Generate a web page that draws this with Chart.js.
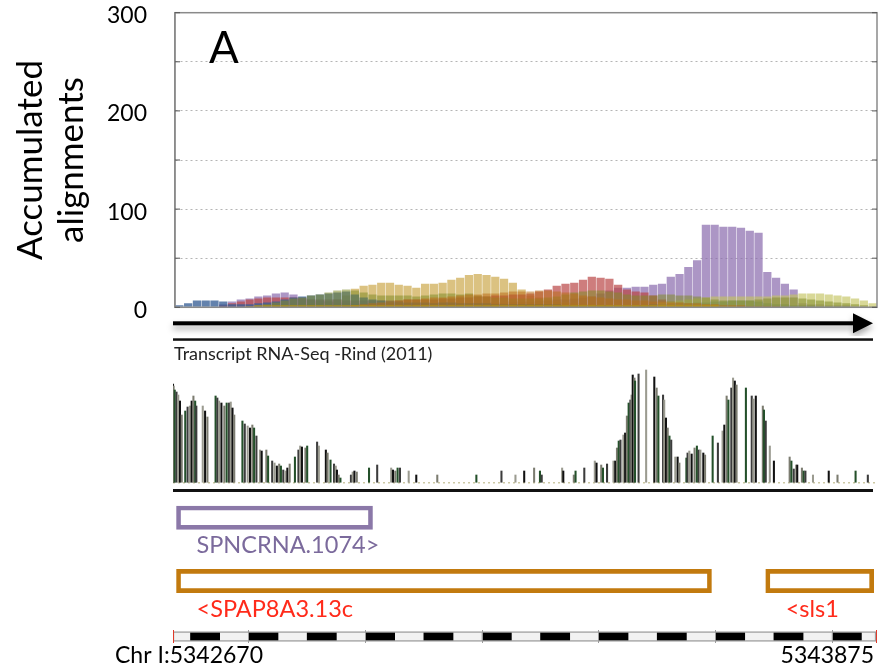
<!DOCTYPE html>
<html><head><meta charset="utf-8">
<script src="https://cdn.jsdelivr.net/npm/chart.js@4.4.1/dist/chart.umd.min.js"></script>
<style>
html,body{margin:0;padding:0;background:#fff;}
#wrap{position:relative;width:881px;height:672px;overflow:hidden;background:#fff;}
canvas{position:absolute;left:0;}
</style></head><body>
<div id="wrap">
<canvas id="cov" width="881" height="336" style="top:0px"></canvas>
<canvas id="trk" width="881" height="160" style="top:336px"></canvas>
<canvas id="gen" width="881" height="146" style="top:486px"></canvas>
<canvas id="rul" width="881" height="47" style="top:625px"></canvas>
</div>
<script>
// ---------- region ----------
const START = 5342670, END = 5343875;
const BIN_COUNT = 80;
const binLabels = Array.from({length: BIN_COUNT}, (_, i) => String(START + Math.round(i * (END - START) / BIN_COUNT)));

// ---------- panel A: accumulated alignments (per bin) ----------
const yTickValues = [0, 100, 200, 300];
const covBlue = [2,4,7,7,7,6,3,3,3,4, 5,6,8,10,11,12,13,14,15,16, 13,10,8,7,6,6,5,5,5,4, 5,5,4,4,4,4,3,3,3,3,
                 3,3,3,3,2,2,2,2,2,2, 2,2,2,2,3,3,3,4,4,5, 5,6,6,7,7,7,6,4,3,3, 2,2,2,1,1,1,1,0,0,0];
const covPurple = [0,0,0,0,0,3,6,8,9,11, 12,14,15,13,10,8,7,6,5,5, 4,4,4,4,4,4,4,5,5,5, 5,5,5,5,5,5,5,5,6,6,
                   6,7,7,8,8,9,10,11,14,17, 20,20,21,21,23,24,31,34,41,48, 84,84,82,82,81,78,76,36,30,24, 18,4,3,3,2,2,2,1,1,0];
const covRed = [0,0,0,0,0,2,4,6,8,9, 10,10,10,10,9,8,8,8,8,7, 7,7,7,7,7,7,8,8,8,8, 9,9,10,10,11,11,12,12,13,13,
                14,16,18,22,24,25,28,31,30,29, 23,18,16,15,12,8,6,5,4,4, 3,3,3,2,2,2,2,2,1,1, 1,1,1,0,0,0,0,0,0,0];
const covTan = [0,0,0,0,0,0,0,0,0,0, 0,0,0,0,3,4,5,6,8,12, 19,22,23,25,25,23,22,20,24,24, 25,28,30,33,34,33,31,29,25,18,
                12,10,8,6,5,4,3,3,2,2, 2,2,2,2,1,1,1,1,1,1, 1,1,1,1,0,0,0,0,0,0, 0,0,0,0,0,0,0,0,0,0];
const covOlive = [0,0,0,0,0,0,0,0,0,1, 3,5,7,9,10,12,13,15,17,18, 17,15,13,12,12,12,12,11,12,13, 14,14,13,14,12,11,10,10,9,9,
                  9,9,10,11,13,15,16,17,17,16, 15,13,12,12,12,13,13,12,12,11, 10,8,7,7,7,7,8,9,10,10, 10,9,8,7,6,5,4,3,2,1];
const covOrange = [0,0,0,0,0,0,0,0,0,0, 0,0,0,0,0,0,0,0,0,0, 2,3,4,5,6,7,8,8,9,10, 10,11,12,13,13,14,14,15,16,16,
                   16,17,17,16,15,14,12,11,10,9, 8,8,7,7,6,6,5,5,4,4, 3,3,2,2,2,1,1,1,1,0, 0,0,0,0,0,0,0,0,0,0];
const covLime = [0,0,0,0,0,0,0,0,0,0, 0,0,0,0,0,0,0,0,0,0, 0,0,0,0,0,0,0,0,0,0, 0,0,0,0,0,0,0,0,0,0,
                 0,0,0,0,0,0,0,0,0,0, 0,0,0,0,0,5,6,7,8,9, 10,11,11,11,11,11,11,11,12,12, 13,14,14,14,13,12,11,9,7,4];
const covGold = [0,0,0,0,0,0,0,0,1,2, 2,2,2,2,2,2,2,2,2,2, 2,2,2,2,2,2,2,2,2,2, 2,2,2,2,2,2,2,2,2,2,
                 2,2,2,2,2,2,2,2,2,2, 2,2,2,2,2,2,2,2,2,2, 2,2,1,1,0,0,0,0,0,0, 0,0,0,0,0,0,0,0,0,0];

// ---------- RNA-seq track (Rind 2011) ----------
const TRACK_TITLE = 'Transcript RNA-Seq -Rind (2011)';
const rnaOffset = [0,1,3,6,9,12,15,21,25,29,32,35,38,40,51,55,59,73,76,79,83,88,92,96,99,102,105,119,123,128,132,136,139,143,
  149,152,160,163,170,174,178,182,185,189,193,196,200,209,215,218,221,227,230,247,250,262,265,270,276,279,281,284,287,
  305,308,311,315,336,350,374,377,381,385,389,404,417,453,520,563,587,602,619,629,632,667,669,687,690,705,
  723,726,734,737,744,755,758,761,764,767,772,775,778,781,784,786,788,791,792,798,811,825,829,832,840,842,845,848,851,854,
  861,865,868,880,882,885,889,894,898,901,904,909,912,925,934,942,945,949,952,957,960,963,966,982,992,995,999,
  1011,1013,1016,1023,1030,1057,1060,1064,1068,1070,1078,1081,1084,1097,1124,1139,1170,1191];
const rnaDepth = [99,97,93,91,88,82,68,72,76,77,82,87,82,77,77,72,66,87,85,82,80,77,80,80,81,75,68,62,59,57,55,58,55,47,
  33,32,33,27,22,20,17,19,17,13,12,15,19,26,33,37,36,35,37,41,37,33,30,23,19,17,13,8,5,
  8,11,12,11,15,18,15,13,12,15,15,12,8,8,8,12,8,12,15,12,8,15,12,8,12,15,
  22,20,18,15,19,22,22,35,42,43,48,50,67,80,83,88,108,105,102,109,113,106,95,87,88,83,65,55,47,43,
  26,26,20,25,30,32,29,35,37,33,33,30,28,47,40,52,58,87,83,95,105,102,98,95,87,84,87,
  77,73,62,37,22,26,22,14,18,18,15,12,12,8,12,8,12,8];

// ---------- genes ----------
const geneNames = ['SPNCRNA.1074>', '<SPAP8A3.13c', '<sls1'];
const geneStart = [5342676, 5342676, 5343686];
const geneEnd   = [5343012, 5343593, 5343871];
const geneRow   = [0, 1, 1];
const geneKind  = ['ncRNA', 'cds', 'cds'];
const geneRows  = ['ncRNA', 'coding'];

// ---------- ruler ----------
const rulerDashStart = [5342700,5342800,5342900,5343000,5343100,5343200,5343300,5343400,5343500,5343600,5343700,5343800];
const rulerDashEnd   = [5342750,5342850,5342950,5343050,5343150,5343250,5343350,5343450,5343550,5343650,5343750,5343850];
const rulerTicks = [5342800,5343000,5343200,5343400,5343600,5343800];
const chrLabelLeft = 'Chr I:5342670', chrLabelRight = '5343875';

// ================= drawing =================
Chart.defaults.font.family = "Lato, 'DejaVu Sans', sans-serif";
Chart.defaults.color = '#000';
const base = {responsive:false, animation:false, devicePixelRatio:1,
  plugins:{legend:{display:false}, tooltip:{enabled:false}, title:{display:false}}};

const covSeries = [
  {label:'gold',   data:covGold,   color:'rgba(185,150,20,0.85)'},
  {label:'orange', data:covOrange, color:'rgba(185,110,25,0.55)'},
  {label:'olive',  data:covOlive,  color:'rgba(130,140,40,0.55)'},
  {label:'lime',   data:covLime,   color:'rgba(195,195,95,0.65)'},
  {label:'blue',   data:covBlue,   color:'rgba(55,95,150,0.78)'},
  {label:'red',    data:covRed,    color:'rgba(185,70,70,0.7)'},
  {label:'tan',    data:covTan,    color:'rgba(205,170,80,0.72)'},
  {label:'purple', data:covPurple, color:'rgba(140,110,175,0.72)'}
];

const covDecor = {id:'covDecor', afterDraw(chart){
  const {ctx, chartArea:a, scales:{y}} = chart;
  ctx.save();
  ctx.strokeStyle = '#8a8a8a'; ctx.lineWidth = 1.5;
  ctx.strokeRect(a.left, a.top, a.right - a.left, a.bottom - a.top);
  ctx.strokeStyle = '#555'; ctx.lineWidth = 1;
  y.ticks.forEach(t => { const py = y.getPixelForValue(t.value);
    ctx.beginPath(); ctx.moveTo(a.left, py); ctx.lineTo(a.left + 5, py);
    ctx.moveTo(a.right - 5, py); ctx.lineTo(a.right, py); ctx.stroke(); });
  ctx.fillStyle = '#000'; ctx.font = "44px Lato"; ctx.textAlign = 'left'; ctx.textBaseline = 'alphabetic';
  ctx.fillText('A', a.left + 34, a.top + 50.5);
  // direction arrow
  const ay = a.bottom + 16, x0 = a.left - 2, x1 = a.right - 4;
  ctx.shadowColor = 'rgba(0,0,0,0.35)'; ctx.shadowBlur = 6; ctx.shadowOffsetY = 4;
  ctx.fillRect(x0, ay - 2, (x1 - 20) - x0, 4);
  ctx.beginPath(); ctx.moveTo(x1 - 20, ay - 10); ctx.lineTo(x1, ay); ctx.lineTo(x1 - 20, ay + 10); ctx.closePath(); ctx.fill();
  ctx.restore();
}};

new Chart(document.getElementById('cov'), {
  type:'bar',
  data:{labels:binLabels, datasets:covSeries.map(s => ({label:s.label, data:s.data, backgroundColor:s.color,
      borderWidth:0, grouped:false, categoryPercentage:1, barPercentage:0.94}))},
  options:{...base,
    layout:{padding:{top:12.7, right:4, bottom:28.7, left:0}},
    scales:{
      x:{display:false},
      y:{min:0, max:300,
        ticks:{stepSize:50, callback:v => yTickValues.includes(v) ? String(v) : '', font:{size:23}, color:'#000', padding:28, labelOffset:3},
        grid:{color:'#b5b5b5', drawTicks:false, lineWidth:1},
        border:{display:true, color:'#8a8a8a', width:1.5, dash:[2,3]},
        title:{display:true, text:['Accumulated','alignments'], font:{size:35, lineHeight:1.17}, color:'#000', padding:{top:10, bottom:0}},
        afterFit(s){ s.width = 175; s.paddingTop = 0; s.paddingBottom = 0; }
      }
    }
  },
  plugins:[covDecor]
});

// ---- track ----
const rnaShades = ['#111111','#7c7c70','#24502a','#3c3c3c','#9b9b90'];
const trkDecor = {id:'trkDecor', afterDraw(chart){
  const {ctx, chartArea:a} = chart;
  ctx.save();
  ctx.fillStyle = '#111';
  ctx.fillRect(a.left, 2.3, a.right - a.left - 3, 2.5);
  ctx.fillRect(a.left, 153, a.right - a.left - 3, 3);
  ctx.fillStyle = '#222'; ctx.font = "18px Lato"; ctx.textAlign = 'left'; ctx.textBaseline = 'middle';
  ctx.fillText(TRACK_TITLE, a.left + 1, 18);
  ctx.restore();
}};
new Chart(document.getElementById('trk'), {
  type:'bar',
  data:{datasets:[{data:rnaOffset.map((o, i) => ({x:START + o, y:rnaDepth[i]})),
     backgroundColor:c => rnaShades[c.dataIndex % rnaShades.length], barThickness:1.4, borderWidth:0}]},
  options:{...base,
    layout:{padding:{top:32, right:5, bottom:13, left:0}},
    scales:{
      x:{type:'linear', min:START, max:END, display:false, offset:false, grid:{offset:false}},
      y:{min:0, max:115, ticks:{display:false},
         grid:{drawTicks:false, lineWidth:1.5, color:c => (c.tick && c.tick.value === 0) ? '#cdc9a5' : 'rgba(0,0,0,0)'},
         border:{display:false, dash:[2,3]},
         afterFit(s){ s.width = 173; s.paddingTop = 0; s.paddingBottom = 0; }}
    }
  },
  plugins:[trkDecor]
});

// ---- genes ----
const geneStyle = {ncRNA:{box:'#8b78a8', text:'#7b6a9c'}, cds:{box:'#c27a0e', text:'#ff2a1a'}};
const geneIdx = geneNames.map((_, i) => i);
const geneLabels = {id:'geneLabels', afterDraw(chart){
  const {ctx, scales:{x, y}} = chart;
  ctx.save(); ctx.font = "23.5px Lato"; ctx.textAlign = 'left'; ctx.textBaseline = 'middle';
  geneIdx.forEach(i => { ctx.fillStyle = geneStyle[geneKind[i]].text;
    ctx.fillText(geneNames[i], x.getPixelForValue(geneStart[i]) + 20, y.getPixelForValue(geneRow[i]) + 28); });
  ctx.restore();
}};
new Chart(document.getElementById('gen'), {
  type:'bar',
  data:{labels:geneRows, datasets:Object.keys(geneStyle).map(k => ({
     data:geneIdx.filter(i => geneKind[i] === k).map(i => ({x:[geneStart[i], geneEnd[i]], y:geneRows[geneRow[i]]})),
     borderColor:geneStyle[k].box, backgroundColor:'rgba(255,255,255,0)', borderWidth:4, borderSkipped:false,
     barThickness:23.3, grouped:false}))},
  options:{...base, indexAxis:'y',
    layout:{padding:{top:0, right:5, bottom:19.4, left:173}},
    scales:{
      x:{type:'linear', min:START, max:END, display:false, offset:false},
      y:{type:'category', display:false}
    }
  },
  plugins:[geneLabels]
});

// ---- ruler ----
const rulerLabels = {id:'rulerLabels', afterDraw(chart){
  const {ctx, chartArea:a, scales:{x}} = chart;
  ctx.save(); ctx.font = "23px Lato"; ctx.fillStyle = '#000'; ctx.textBaseline = 'middle';
  ctx.textAlign = 'left'; ctx.fillText(chrLabelLeft, x.getPixelForValue(START) - 58, a.bottom + 13);
  ctx.textAlign = 'right'; ctx.fillText(chrLabelRight, x.getPixelForValue(END) - 2, a.bottom + 13);
  ctx.restore();
}};
new Chart(document.getElementById('rul'), {
  type:'bar',
  data:{labels:['ruler'], datasets:[
    {data:rulerDashStart.map((s, i) => ({x:[s, rulerDashEnd[i]], y:'ruler'})), backgroundColor:'#000', borderWidth:0, barThickness:7, grouped:false},
    {data:[{x:[START, END], y:'ruler'}], backgroundColor:'#f2f2f2', borderColor:'#a0a0a0', borderWidth:1.5, borderSkipped:false, barThickness:10, grouped:false}
  ]},
  options:{...base, indexAxis:'y',
    layout:{padding:{top:5, right:5, bottom:29, left:173}},
    scales:{
      x:{type:'linear', min:START, max:END, offset:false, display:true,
         ticks:{display:false},
         grid:{drawTicks:false, z:1, lineWidth:1, color:c => (c.tick && (c.tick.value === START || c.tick.value === END)) ? '#e03a2a' : '#9a9a9a'},
         border:{display:false},
         afterBuildTicks(s){ s.ticks = [START, ...rulerTicks, END].map(v => ({value:v})); }},
      y:{type:'category', display:false}
    }
  },
  plugins:[rulerLabels]
});
</script>
</body></html>
